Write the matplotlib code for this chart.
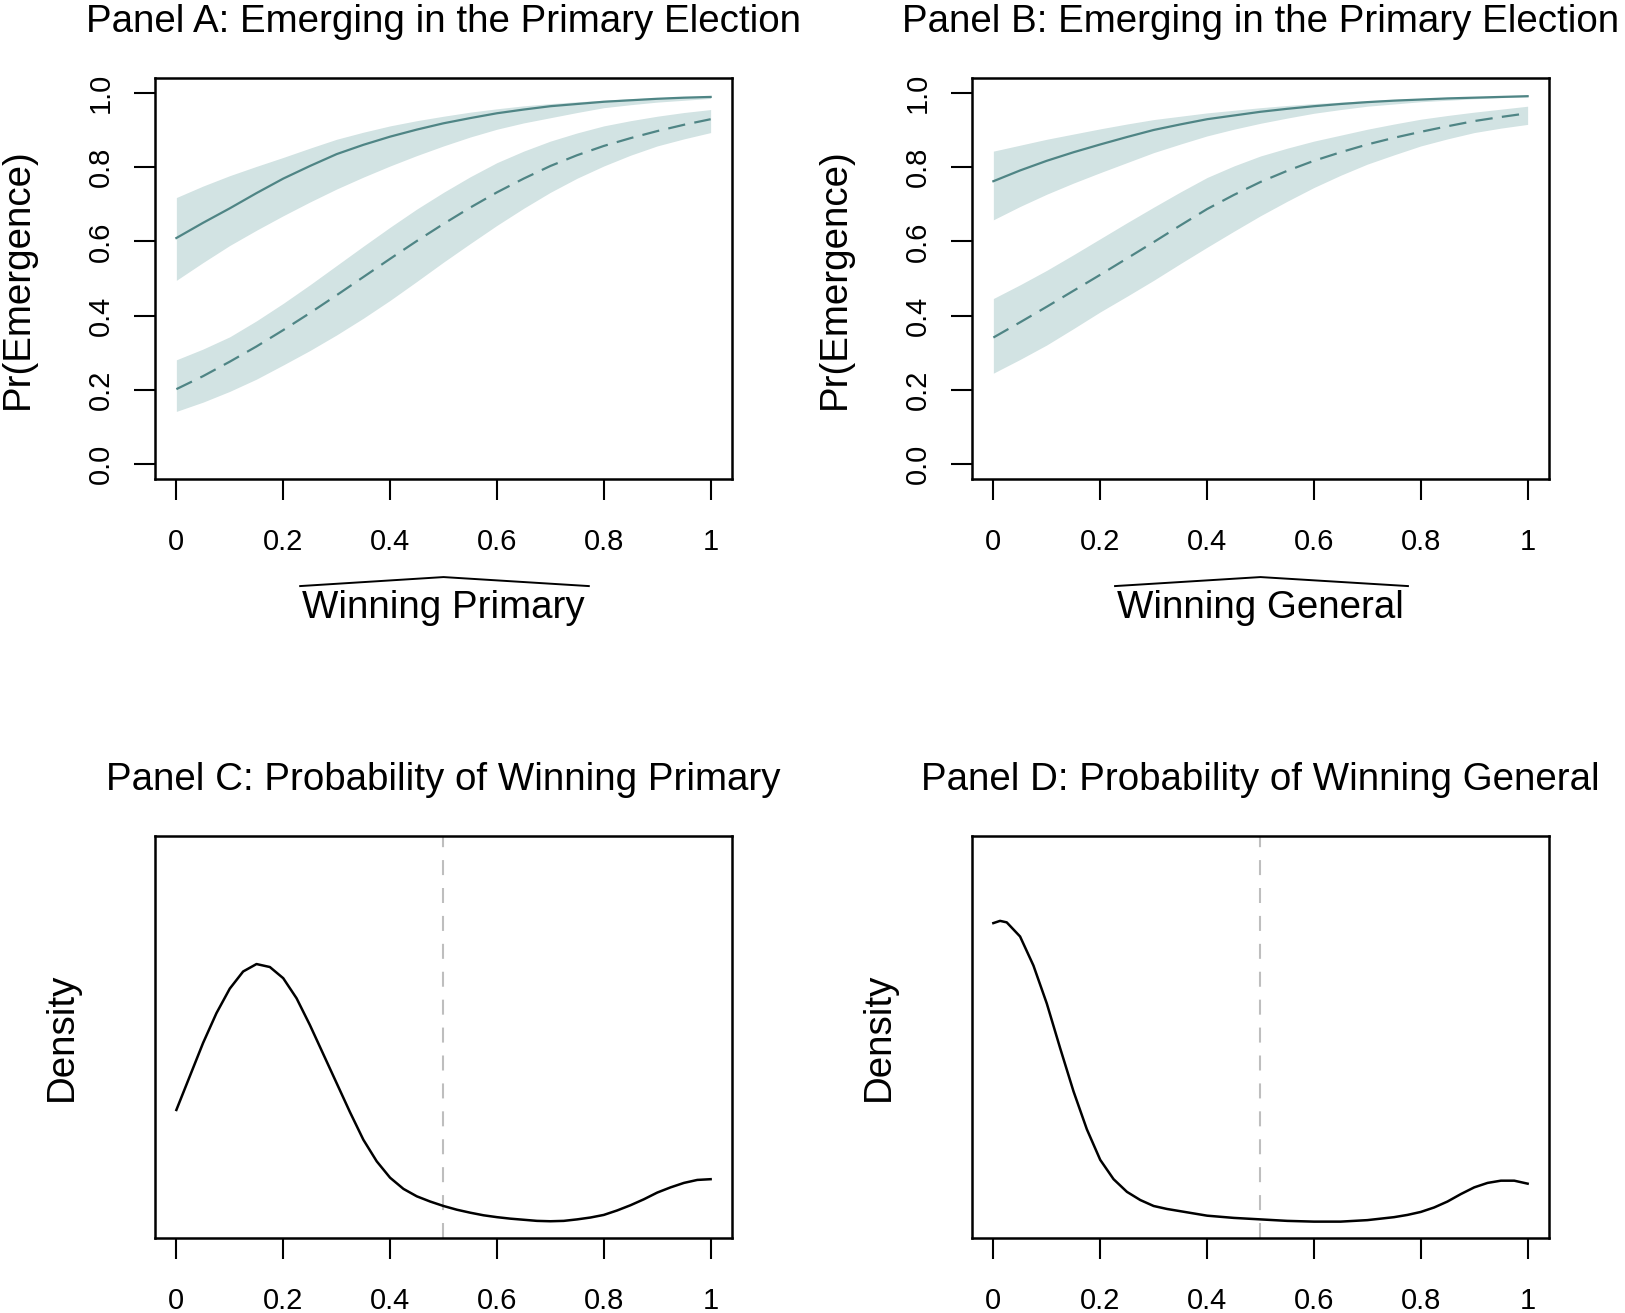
import matplotlib
matplotlib.use("Agg")  # no display in the sandbox
import matplotlib.pyplot as plt
from matplotlib.lines import Line2D

plt.rcParams["font.family"] = ["Liberation Sans", "DejaVu Sans"]

# ---- predicted probability of emergence (panels A and B) ----
x_pred = [0.0, 0.05, 0.1, 0.15, 0.2, 0.25, 0.3, 0.35, 0.4, 0.45, 0.5,
          0.55, 0.6, 0.65, 0.7, 0.75, 0.8, 0.85, 0.9, 0.95, 1.0]

a_solid = [0.609, 0.650, 0.689, 0.730, 0.769, 0.803, 0.835, 0.860, 0.882, 0.901, 0.918,
           0.932, 0.945, 0.955, 0.964, 0.970, 0.976, 0.980, 0.984, 0.987, 0.989]
a_solid_hi = [0.718, 0.749, 0.777, 0.802, 0.826, 0.851, 0.875, 0.894, 0.911, 0.925, 0.937,
              0.948, 0.957, 0.965, 0.971, 0.976, 0.980, 0.984, 0.987, 0.989, 0.991]
a_solid_lo = [0.495, 0.543, 0.589, 0.630, 0.669, 0.706, 0.741, 0.773, 0.803, 0.831, 0.857,
              0.881, 0.902, 0.919, 0.933, 0.947, 0.960, 0.968, 0.975, 0.980, 0.985]
a_dash = [0.202, 0.237, 0.276, 0.317, 0.361, 0.407, 0.455, 0.504, 0.553, 0.601, 0.647,
          0.691, 0.732, 0.769, 0.803, 0.832, 0.857, 0.878, 0.897, 0.914, 0.929]
a_dash_hi = [0.281, 0.310, 0.343, 0.386, 0.433, 0.483, 0.535, 0.587, 0.638, 0.687, 0.732,
             0.774, 0.812, 0.843, 0.870, 0.892, 0.911, 0.925, 0.937, 0.947, 0.955]
a_dash_lo = [0.142, 0.167, 0.196, 0.229, 0.267, 0.306, 0.348, 0.393, 0.441, 0.492, 0.544,
             0.594, 0.643, 0.689, 0.732, 0.770, 0.803, 0.832, 0.857, 0.876, 0.893]

b_solid = [0.762, 0.791, 0.817, 0.840, 0.861, 0.881, 0.900, 0.915, 0.929, 0.939, 0.949,
           0.957, 0.964, 0.970, 0.975, 0.979, 0.982, 0.985, 0.987, 0.989, 0.991]
b_solid_hi = [0.843, 0.859, 0.875, 0.889, 0.903, 0.916, 0.928, 0.937, 0.946, 0.953, 0.960,
              0.966, 0.971, 0.975, 0.979, 0.982, 0.985, 0.987, 0.989, 0.991, 0.993]
b_solid_lo = [0.658, 0.694, 0.727, 0.757, 0.785, 0.812, 0.839, 0.862, 0.884, 0.902, 0.918,
              0.932, 0.945, 0.955, 0.964, 0.970, 0.976, 0.980, 0.984, 0.987, 0.989]
b_dash = [0.341, 0.382, 0.424, 0.467, 0.510, 0.554, 0.598, 0.643, 0.687, 0.725, 0.760,
          0.790, 0.817, 0.840, 0.861, 0.879, 0.895, 0.910, 0.924, 0.935, 0.945]
b_dash_hi = [0.446, 0.483, 0.522, 0.564, 0.607, 0.650, 0.692, 0.733, 0.772, 0.803, 0.830,
             0.851, 0.870, 0.886, 0.902, 0.916, 0.929, 0.939, 0.948, 0.956, 0.964]
b_dash_lo = [0.245, 0.282, 0.321, 0.365, 0.410, 0.452, 0.495, 0.540, 0.584, 0.627, 0.669,
             0.708, 0.745, 0.778, 0.808, 0.833, 0.857, 0.876, 0.893, 0.905, 0.915]

# ---- density of the win probabilities (panels C and D) ----
x_dens_c = [0.0, 0.025, 0.05, 0.075, 0.1, 0.125, 0.15, 0.175, 0.2, 0.225, 0.25,
            0.275, 0.3, 0.325, 0.35, 0.375, 0.4, 0.425, 0.45, 0.475, 0.5,
            0.525, 0.55, 0.575, 0.6, 0.625, 0.65, 0.675, 0.7, 0.725, 0.75,
            0.775, 0.8, 0.825, 0.85, 0.875, 0.9, 0.925, 0.95, 0.975, 1.0]
dens_c = [1.52, 1.97, 2.42, 2.82, 3.15, 3.38, 3.48, 3.44, 3.29, 3.02, 2.66,
          2.27, 1.88, 1.49, 1.12, 0.83, 0.61, 0.46, 0.36, 0.29, 0.23,
          0.18, 0.14, 0.105, 0.08, 0.06, 0.045, 0.03, 0.025, 0.03, 0.05,
          0.075, 0.11, 0.17, 0.24, 0.32, 0.41, 0.48, 0.54, 0.58, 0.59]

x_dens_d = [0.0, 0.0125, 0.025, 0.05, 0.075, 0.1, 0.125, 0.15, 0.175, 0.2, 0.225,
            0.25, 0.275, 0.3, 0.325, 0.35, 0.375, 0.4, 0.45, 0.5, 0.55,
            0.6, 0.65, 0.7, 0.75, 0.775, 0.8, 0.825, 0.85, 0.875, 0.9,
            0.925, 0.95, 0.975, 1.0]
dens_d = [4.03, 4.06, 4.04, 3.85, 3.46, 2.95, 2.35, 1.77, 1.26, 0.85, 0.59,
          0.42, 0.31, 0.23, 0.19, 0.16, 0.13, 0.10, 0.07, 0.05, 0.03,
          0.02, 0.02, 0.04, 0.08, 0.11, 0.15, 0.21, 0.29, 0.39, 0.48,
          0.54, 0.57, 0.57, 0.53]

x_ticks = [0, 0.2, 0.4, 0.6, 0.8, 1]
x_tick_labels = ["0", "0.2", "0.4", "0.6", "0.8", "1"]
y_ticks = [0.0, 0.2, 0.4, 0.6, 0.8, 1.0]
y_tick_labels = ["0.0", "0.2", "0.4", "0.6", "0.8", "1.0"]

LINE_COL = "#4F8585"
BAND_COL = "#D2E3E3"
TITLE_SIZE = 27.7
TICK_SIZE = 21


def style_box(ax):
    # R-like full box and long outward ticks
    for sp in ax.spines.values():
        sp.set_linewidth(1.8)
        sp.set_color("black")
    ax.set_xlim(-0.04, 1.04)
    ax.set_xticks(x_ticks)
    ax.set_xticklabels(x_tick_labels)
    ax.tick_params(axis="both", direction="out", length=15, width=1.5,
                   labelsize=TICK_SIZE, color="black")
    ax.tick_params(axis="x", pad=20)


def prob_panel(ax, title, xlabel, solid, solid_lo, solid_hi, dash, dash_lo, dash_hi):
    ax.fill_between(x_pred, solid_lo, solid_hi, color=BAND_COL, lw=0)
    ax.fill_between(x_pred, dash_lo, dash_hi, color=BAND_COL, lw=0)
    ax.plot(x_pred, solid, color=LINE_COL, lw=1.6)
    ax.plot(x_pred, dash, color=LINE_COL, lw=1.6, dashes=(7.8, 4.2))
    style_box(ax)
    ax.set_ylim(-0.04, 1.04)
    ax.set_yticks(y_ticks)
    ax.set_yticklabels(y_tick_labels, rotation=90, va="center")
    ax.tick_params(axis="y", pad=14)
    ax.set_title(title, fontsize=TITLE_SIZE, pad=33)
    ax.set_ylabel("Pr(Emergence)", fontsize=TITLE_SIZE)
    ax.yaxis.set_label_coords(-0.206, 0.5)
    ax.set_xlabel(xlabel, fontsize=TITLE_SIZE, va="top")
    ax.xaxis.set_label_coords(0.5, -0.277)


def density_panel(ax, title, xs, dens):
    ax.axvline(0.5, color="#BEBEBE", lw=1.5, dashes=(7.2, 6.2))
    ax.plot(xs, dens, color="black", lw=1.8)
    style_box(ax)
    ax.set_ylim(-0.2, 5.2)
    ax.set_yticks([])
    ax.set_title(title, fontsize=TITLE_SIZE, pad=33)
    ax.set_ylabel("Density", fontsize=TITLE_SIZE)
    ax.yaxis.set_label_coords(-0.13, 0.5)


fig = plt.figure(figsize=(16.25, 13.13), dpi=100)
w, h = 0.35508, 0.30541
ax_a = fig.add_axes([0.09538, 0.63519, w, h])
ax_b = fig.add_axes([0.59815, 0.63519, w, h])
ax_c = fig.add_axes([0.09538, 0.05712, w, 0.30617])
ax_d = fig.add_axes([0.59815, 0.05712, w, 0.30617])

prob_panel(ax_a, "Panel A: Emerging in the Primary Election", "Winning Primary",
           a_solid, a_solid_lo, a_solid_hi, a_dash, a_dash_lo, a_dash_hi)
prob_panel(ax_b, "Panel B: Emerging in the Primary Election", "Winning General",
           b_solid, b_solid_lo, b_solid_hi, b_dash, b_dash_lo, b_dash_hi)
density_panel(ax_c, "Panel C: Probability of Winning Primary", x_dens_c, dens_c)
density_panel(ax_d, "Panel D: Probability of Winning General", x_dens_d, dens_d)

# wide hat over the x labels of the top panels, sized from the rendered text
fig.canvas.draw()
renderer = fig.canvas.get_renderer()
inv = fig.transFigure.inverted()
for ax in (ax_a, ax_b):
    bb = ax.xaxis.label.get_window_extent(renderer)
    xm = (bb.x0 + bb.x1) / 2
    pts = inv.transform([(bb.x0 - 2, bb.y1 + 4), (xm, bb.y1 + 13), (bb.x1 + 4, bb.y1 + 4)])
    fig.add_artist(Line2D(pts[:, 0], pts[:, 1], color="black", lw=1.4,
                          transform=fig.transFigure))

fig.savefig("out.png", dpi=100)
